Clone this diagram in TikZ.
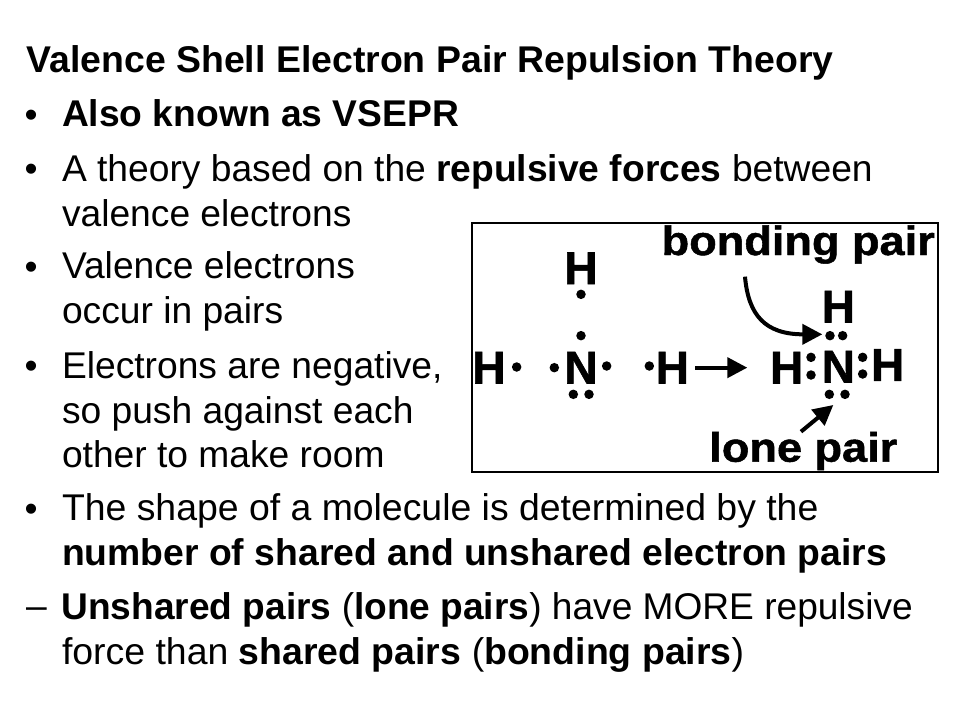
\documentclass[tikz,border=0pt]{standalone}
\usepackage{fontspec}
\setmainfont{Liberation Sans}
\newfontface\heavyfont[FakeBold=1.2]{Liberation Sans Bold}
\usetikzlibrary{arrows.meta}
\tikzset{
 x=1pt,y=-1pt,
 ln/.style={anchor=base west,inner sep=0pt,outer sep=0pt,font=\fontsize{37.2}{37.2}\selectfont,text=black},
 bl/.style={anchor=base west,inner sep=0pt,outer sep=0pt,font=\fontsize{37.2}{37.2}\selectfont,text=black},
 atom/.style={inner sep=0pt,outer sep=0pt,font=\fontsize{46}{46}\heavyfont,text=black},
 captxt/.style={anchor=base west,inner sep=0pt,outer sep=0pt,font=\fontsize{41}{41}\heavyfont,text=black,xscale=1.1},
 edot/.style={circle,fill=black,draw=none,minimum size=9.5pt,inner sep=0pt,outer sep=0pt},
 arr/.style={line width=4pt,draw=black,-{Triangle[length=20pt,width=20pt]}},
}
\begin{document}
\begin{tikzpicture}
\useasboundingbox (0,0) rectangle (960,720);
\fill[white] (0,0) rectangle (960,720);
\node[ln,xscale=1.006] (t0) at (26.5,72.5) {\bfseries Valence Shell Electron Pair Repulsion Theory};
\node[bl] (b1) at (24.5,127) {•};
\node[ln] (t1) at (62,126.5) {\bfseries Also known as VSEPR};
\node[bl] (b2) at (24.5,181) {•};
\node[ln] (t2) at (62,181) {A theory based on the \textbf{repulsive forces} between};
\node[ln] (t2b) at (62,226) {valence electrons};
\node[bl] (b3) at (24.5,279) {•};
\node[ln] (t3) at (62,278.5) {Valence electrons};
\node[ln] (t3b) at (62,323.5) {occur in pairs};
\node[bl] (b4) at (24.5,378) {•};
\node[ln] (t4) at (62,378) {Electrons are negative,};
\node[ln] (t4b) at (62,423) {so push against each};
\node[ln] (t4c) at (62,467.5) {other to make room};
\node[bl] (b5) at (24.5,521) {•};
\node[ln,xscale=1.005] (t5) at (62,520.5) {The shape of a molecule is determined by the};
\node[ln,xscale=1.003] (t5b) at (62,565.5) {\bfseries number of shared and unshared electron pairs};
\node[bl] (b6) at (26,618.5) {–};
\node[ln,xscale=.997] (t6) at (61.5,619.5) {\textbf{Unshared pairs} (\textbf{lone pairs}) have MORE repulsive};
\node[ln,xscale=1.006] (t6b) at (62,664) {force than \textbf{shared pairs} (\textbf{bonding pairs})};
\draw[black,line width=1.2pt] (472,223) rectangle (938,472);
\begin{scope}[x=0.33333pt,y=-0.33333pt,shift={(1395,645)}]
\node[captxt] (bp) at (590,120) {bonding pair};
\node[captxt] (lp) at (733,740) {lone pair};
\node[atom] (h1) at (348,160) {H};
\node[atom] (h2) at (72,458) {H};
\node[atom] (n1) at (348,458) {N};
\node[atom] (h3) at (622,458) {H};
\node[atom] (h4) at (1120,275) {H};
\node[atom] (h5) at (965,458) {H};
\node[atom] (n2) at (1120,455) {N};
\node[atom] (h6) at (1268,450) {H};
\foreach \a/\p in {a/{155,456},b/{268,458},c/{425,453},d/{553,453},e/{325,538},f/{372,538},g/{348,238},h/{348,362},i/{1095,362},j/{1133,362},k/{1038,427},l/{1038,480},m/{1193,427},o/{1193,477},q/{1093,538},r/{1140,538}}
  \node[edot] (d\a) at (\p) {};
\coordinate (c1s) at (840,185);
\coordinate (c1e) at (1072,358);
\coordinate (c2s) at (690,458);
\coordinate (c2e) at (847,458);
\coordinate (c3s) at (1008,650);
\coordinate (c3e) at (1105,570);
\draw[arr] (c1s) .. controls (850,300) and (900,358) .. (c1e);
\draw[arr] (c2s) -- (c2e);
\draw[arr] (c3s) -- (c3e);
\end{scope}
\end{tikzpicture}
\end{document}
